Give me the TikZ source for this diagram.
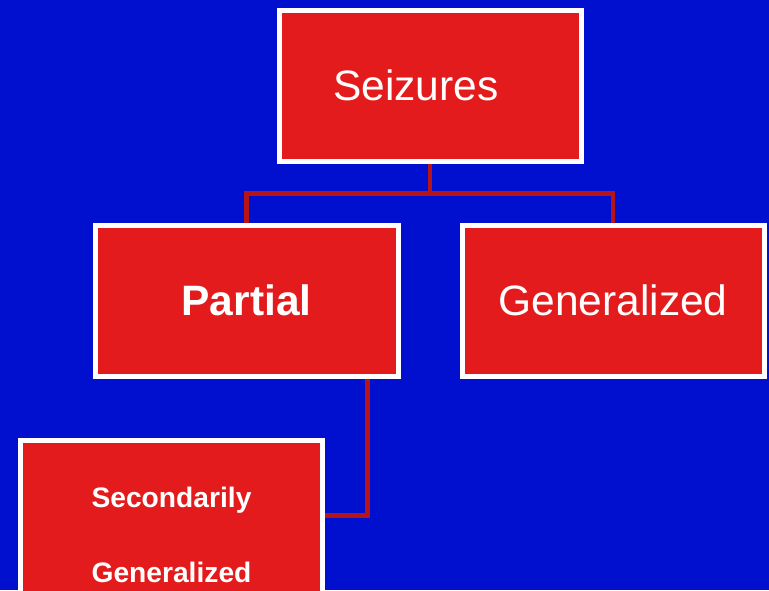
\documentclass[tikz,border=0pt]{standalone}
\usepackage{fontspec}
\setmainfont{Liberation Sans}
\definecolor{bgblue}{RGB}{0,16,206}
\definecolor{boxred}{RGB}{228,27,28}
\definecolor{linkred}{RGB}{182,20,24}
\begin{document}
\begin{tikzpicture}[x=1pt, y=-1pt, line join=miter,
	box/.style={draw=white, line width=5pt, fill=boxred, minimum width=302pt, minimum height=151pt, inner sep=0pt, text=white},
	bigtxt/.style={text=white, font=\fontsize{42.5}{50}\selectfont},
	smalltxt/.style={text=white, font=\fontsize{28.2}{34}\selectfont\bfseries},
	link/.style={draw=linkred, line width=4.5pt}]
	\fill[bgblue] (0,0) rectangle (769,590);
	\useasboundingbox (0,0) rectangle (769,590);
	\clip (0,0) rectangle (769,590);
	% boxes
	\node[box] (seiz) at (430,85.5) {};
	\node[bigtxt] at ([xshift=-14pt]seiz.center) {Seizures};
	\node[box, bigtxt, minimum width=303pt] (part) at (246.5,300.5) {\bfseries Partial};
	\node[box, bigtxt] (gen) at (613,300.5) {Generalized};
	\node[box, minimum height=161pt] (sgen) at (171.5,520.5) {};
	\node[smalltxt, anchor=base] at (171.5,507) {Secondarily};
	\node[smalltxt, anchor=base] at (171.5,582) {Generalized};
	% connectors
	\draw[link] (seiz.south) -- ++(0,30) coordinate (bus);
	\draw[link] (part.north) |- (bus) -| (gen.north);
	\draw[link] ([xshift=121pt]part.south) |- ([yshift=5pt]sgen.east);
\end{tikzpicture}
\end{document}
